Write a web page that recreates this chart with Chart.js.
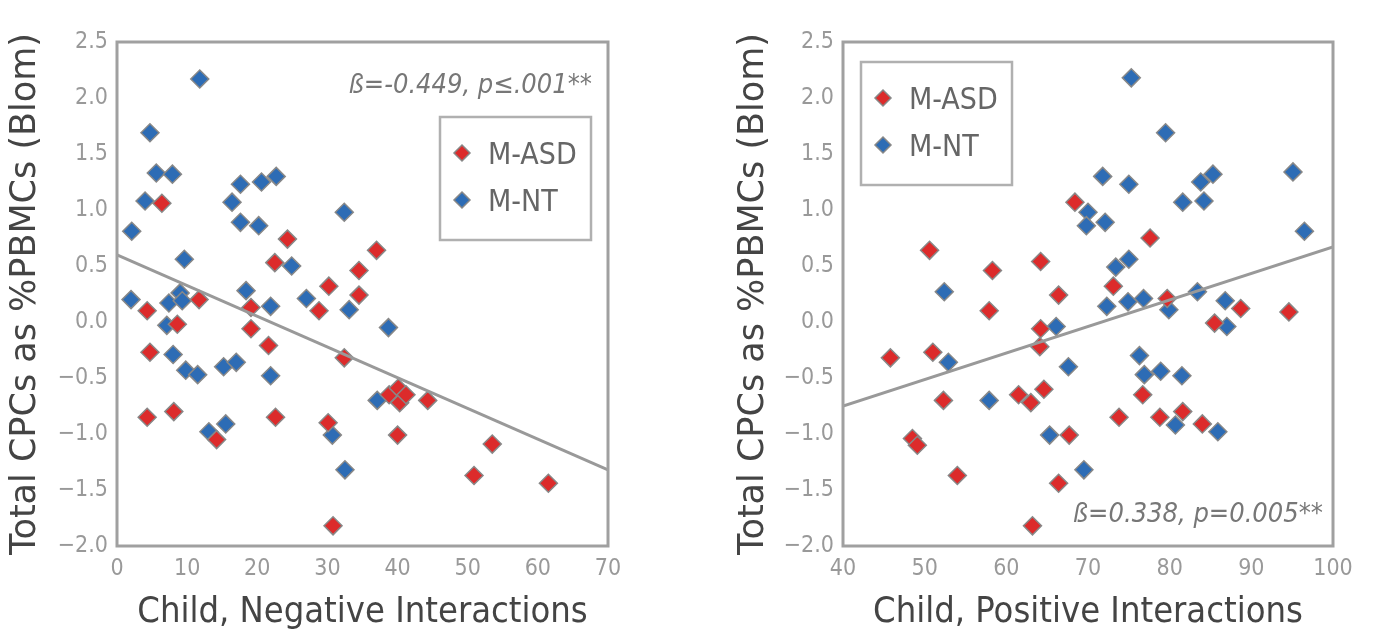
<!DOCTYPE html>
<html>
<head>
<meta charset="utf-8">
<script src="https://cdn.jsdelivr.net/npm/chart.js@4.4.1/dist/chart.umd.min.js"></script>
<style>
  html, body { margin: 0; padding: 0; background: #fff; }
  #wrap { position: relative; width: 1374px; height: 637px; }
  .panel { position: absolute; top: 0; width: 687px; height: 637px; }
</style>
</head>
<body>
<div id="wrap">
  <div class="panel" style="left:0"><canvas id="negChart" width="687" height="637"></canvas></div>
  <div class="panel" style="left:687px"><canvas id="posChart" width="687" height="637"></canvas></div>
</div>
<script>
// Child, Negative Interactions vs CPCs
const negAsdX = [6.4, 4.3, 4.7, 4.3, 8.6, 8.1, 11.7, 14.2, 24.3, 22.5, 19.1, 19.1, 21.6, 22.6, 28.8, 30.2, 32.4, 30.1, 30.8, 37.0, 34.5, 34.5, 38.8, 40.1, 40.3, 41.2, 44.3, 40.0, 53.5, 50.9, 61.5];
const negAsdY = [1.06, 0.10, -0.27, -0.85, -0.02, -0.80, 0.20, -1.05, 0.74, 0.53, 0.13, -0.06, -0.21, -0.85, 0.10, 0.32, -0.32, -0.90, -1.82, 0.64, 0.46, 0.24, -0.65, -0.59, -0.72, -0.65, -0.70, -1.01, -1.09, -1.37, -1.44];
const negNtX = [11.8, 4.7, 5.6, 7.9, 4.0, 2.1, 17.6, 20.6, 22.7, 16.4, 17.6, 20.2, 32.4, 9.6, 24.9, 18.4, 9.0, 2.0, 7.4, 9.3, 7.1, 8.0, 9.8, 11.5, 15.2, 17.0, 21.9, 21.9, 13.1, 15.5, 27.0, 33.1, 30.7, 32.5, 38.7, 37.1];
const negNtY = [2.17, 1.69, 1.33, 1.32, 1.08, 0.81, 1.23, 1.25, 1.30, 1.07, 0.89, 0.86, 0.98, 0.56, 0.50, 0.28, 0.26, 0.20, 0.17, 0.19, -0.03, -0.29, -0.43, -0.47, -0.40, -0.36, 0.14, -0.48, -0.98, -0.91, 0.21, 0.11, -1.01, -1.32, -0.05, -0.70];
const negFitX = [0, 70];
const negFitY = [0.60, -1.32];

// Child, Positive Interactions vs CPCs
const posAsdX = [68.4, 50.6, 58.3, 64.2, 66.4, 57.9, 64.2, 64.1, 45.8, 51.0, 52.3, 61.5, 63.0, 64.6, 48.5, 49.1, 67.7, 54.0, 66.4, 63.2, 77.6, 73.1, 79.7, 88.7, 94.6, 85.5, 76.7, 73.8, 78.8, 81.6, 84.0];
const posAsdY = [1.07, 0.64, 0.46, 0.54, 0.24, 0.10, -0.06, -0.22, -0.32, -0.27, -0.70, -0.65, -0.72, -0.60, -1.04, -1.10, -1.01, -1.37, -1.44, -1.82, 0.75, 0.32, 0.21, 0.12, 0.09, -0.01, -0.65, -0.85, -0.85, -0.80, -0.91];
const posNtX = [70.0, 69.8, 52.4, 66.1, 67.6, 52.9, 57.9, 65.3, 69.5, 75.3, 79.5, 71.8, 75.0, 83.8, 85.3, 95.1, 81.6, 84.2, 72.1, 96.5, 75.0, 73.4, 83.4, 72.3, 74.9, 76.8, 79.9, 86.8, 87.0, 76.3, 76.9, 78.9, 81.5, 80.7, 85.9];
const posNtY = [0.98, 0.86, 0.27, -0.04, -0.40, -0.36, -0.70, -1.01, -1.32, 2.18, 1.69, 1.30, 1.23, 1.25, 1.32, 1.34, 1.07, 1.08, 0.89, 0.81, 0.56, 0.49, 0.27, 0.14, 0.18, 0.21, 0.11, 0.19, -0.04, -0.30, -0.47, -0.44, -0.48, -0.92, -0.98];
const posFitX = [40, 100];
const posFitY = [-0.75, 0.67];

const groupNames = ['M-ASD', 'M-NT'];
const groupColors = ['#dc2b2b', '#2d6cb5'];
const yTitle = 'Total CPCs as %PBMCs (Blom)';

const FONT = "'DejaVu Sans Condensed', 'DejaVu Sans', sans-serif";

function pairs(xs, ys) {
    return xs.map((x, i) => ({ x: x, y: ys[i] }));
}

function diamond(ctx, x, y, r) {
    ctx.beginPath();
    ctx.moveTo(x, y - r);
    ctx.lineTo(x + r, y);
    ctx.lineTo(x, y + r);
    ctx.lineTo(x - r, y);
    ctx.closePath();
    ctx.fill();
    ctx.stroke();
}

// frame, legend box and stats text
const panelExtras = {
    id: 'panelExtras',
    afterDraw(chart, args, opts) {
        const ctx = chart.ctx;
        const a = chart.chartArea;
        ctx.save();

        // legend
        const lx = opts.legendX, ly = opts.legendY;
        ctx.fillStyle = '#fff';
        ctx.fillRect(lx, ly, 151, 123);
        ctx.strokeStyle = '#b0b0b0';
        ctx.lineWidth = 2.5;
        ctx.strokeRect(lx, ly, 151, 123);
        groupNames.forEach((name, i) => {
            const my = ly + 36 + i * 47;
            ctx.fillStyle = groupColors[i];
            ctx.strokeStyle = '#888';
            ctx.lineWidth = 1.5;
            diamond(ctx, lx + 22, my, 8);
            ctx.fillStyle = '#666';
            ctx.font = '30px ' + FONT;
            ctx.textAlign = 'left';
            ctx.textBaseline = 'alphabetic';
            ctx.fillText(name, lx + 48, my + 11);
        });

        // stats
        ctx.fillStyle = '#777';
        ctx.font = 'italic 27px ' + FONT;
        ctx.textAlign = 'right';
        ctx.textBaseline = 'alphabetic';
        ctx.fillText(opts.statText, opts.statX, opts.statY);

        // frame
        ctx.strokeStyle = '#a0a0a0';
        ctx.lineWidth = 3;
        ctx.strokeRect(a.left, a.top, a.right - a.left, a.bottom - a.top);
        ctx.restore();
    }
};

function makeChart(id, p) {
    const ctx = document.getElementById(id).getContext('2d');
    return new Chart(ctx, {
        type: 'scatter',
        data: {
            datasets: [{
                label: 'fit',
                data: pairs(p.fitX, p.fitY),
                showLine: true,
                borderColor: '#999',
                borderWidth: 3,
                pointRadius: 0,
                order: 0
            }, {
                label: groupNames[0],
                data: pairs(p.asdX, p.asdY),
                pointStyle: 'rectRot',
                pointRadius: 9,
                backgroundColor: groupColors[0],
                borderColor: '#888',
                borderWidth: 1.5,
                order: 1
            }, {
                label: groupNames[1],
                data: pairs(p.ntX, p.ntY),
                pointStyle: 'rectRot',
                pointRadius: 9,
                backgroundColor: groupColors[1],
                borderColor: '#888',
                borderWidth: 1.5,
                order: 2
            }]
        },
        options: {
            responsive: false,
            animation: false,
            layout: { padding: { left: 0, top: 42, right: p.padRight, bottom: 0 } },
            plugins: {
                legend: { display: false },
                tooltip: { enabled: false },
                panelExtras: p.extras
            },
            scales: {
                x: {
                    type: 'linear',
                    min: p.xMin,
                    max: p.xMax,
                    afterFit: (scale) => { scale.height = 91; },
                    grid: { display: false, drawTicks: false },
                    border: { display: false },
                    ticks: {
                        stepSize: 10,
                        padding: 9,
                        color: '#999',
                        font: { family: FONT, size: 23 }
                    },
                    title: {
                        display: true,
                        text: p.xTitle,
                        color: '#444',
                        padding: { top: 0, bottom: 3 },
                        font: { family: FONT, size: 36 }
                    }
                },
                y: {
                    type: 'linear',
                    min: -2,
                    max: 2.5,
                    afterFit: (scale) => { scale.width = p.yWidth; },
                    grid: { display: false, drawTicks: false },
                    border: { display: false },
                    ticks: {
                        stepSize: 0.5,
                        padding: 9,
                        color: '#999',
                        font: { family: FONT, size: 23 },
                        callback: (v) => v.toFixed(1).replace('-', '\u2212')
                    },
                    title: {
                        display: true,
                        text: yTitle,
                        color: '#444',
                        padding: { top: p.yTitlePad, bottom: 0 },
                        font: { family: "'DejaVu Sans', sans-serif", size: 35 }
                    }
                }
            }
        },
        plugins: [panelExtras]
    });
}

makeChart('negChart', {
    asdX: negAsdX, asdY: negAsdY, ntX: negNtX, ntY: negNtY,
    fitX: negFitX, fitY: negFitY,
    xMin: 0, xMax: 70,
    xTitle: 'Child, Negative Interactions',
    yWidth: 117, padRight: 79, yTitlePad: 5,
    extras: { legendX: 440, legendY: 117, statText: 'ß=-0.449, p≤.001**', statX: 592, statY: 93 }
});

makeChart('posChart', {
    asdX: posAsdX, asdY: posAsdY, ntX: posNtX, ntY: posNtY,
    fitX: posFitX, fitY: posFitY,
    xMin: 40, xMax: 100,
    xTitle: 'Child, Positive Interactions',
    yWidth: 156, padRight: 41, yTitlePad: 46,
    extras: { legendX: 174, legendY: 62, statText: 'ß=0.338, p=0.005**', statX: 636, statY: 522 }
});
</script>
</body>
</html>
